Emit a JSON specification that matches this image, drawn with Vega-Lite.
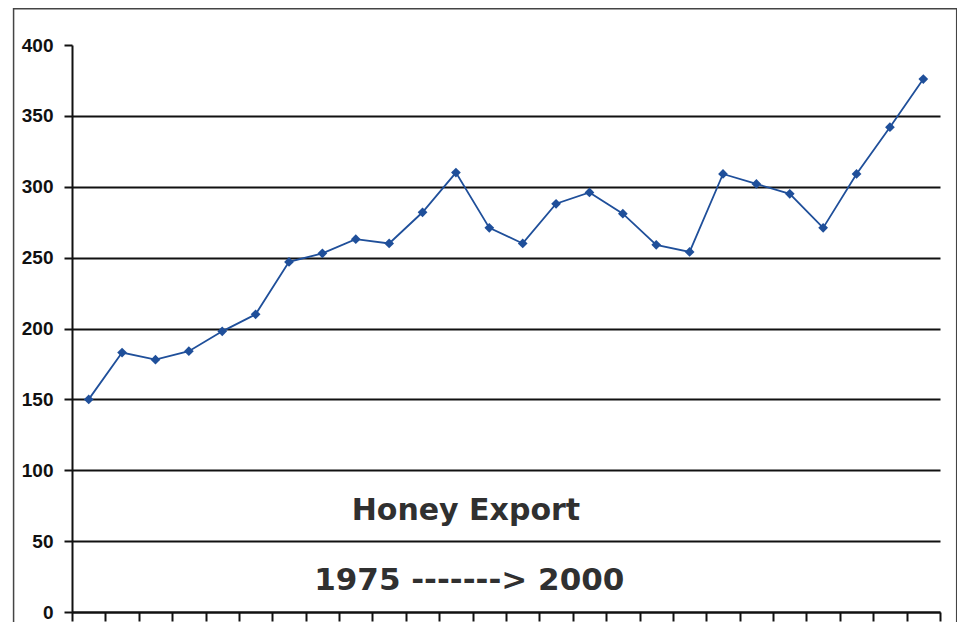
{
  "$schema": "https://vega.github.io/schema/vega-lite/v6.json",
  "width": 868,
  "height": 567,
  "autosize": {"type": "none"},
  "padding": {"left": 72, "top": 45, "right": 17, "bottom": 10},
  "background": "white",
  "config": {"view": {"stroke": null}},
  "datasets": {
    "honey": [
      {"year": 1975, "export": 150},
      {"year": 1976, "export": 183},
      {"year": 1977, "export": 178},
      {"year": 1978, "export": 184},
      {"year": 1979, "export": 198},
      {"year": 1980, "export": 210},
      {"year": 1981, "export": 247},
      {"year": 1982, "export": 253},
      {"year": 1983, "export": 263},
      {"year": 1984, "export": 260},
      {"year": 1985, "export": 282},
      {"year": 1986, "export": 310},
      {"year": 1987, "export": 271},
      {"year": 1988, "export": 260},
      {"year": 1989, "export": 288},
      {"year": 1990, "export": 296},
      {"year": 1991, "export": 281},
      {"year": 1992, "export": 259},
      {"year": 1993, "export": 254},
      {"year": 1994, "export": 309},
      {"year": 1995, "export": 302},
      {"year": 1996, "export": 295},
      {"year": 1997, "export": 271},
      {"year": 1998, "export": 309},
      {"year": 1999, "export": 342},
      {"year": 2000, "export": 376}
    ],
    "labels": [
      {"label": "Honey Export"},
      {"label": "1975 -------> 2000"}
    ]
  },
  "layer": [
    {
      "data": {"name": "honey"},
      "mark": {"type": "line", "color": "#1f4f9a", "strokeWidth": 1.8},
      "encoding": {
        "x": {
          "field": "year",
          "type": "quantitative",
          "scale": {"domain": [1974.5, 2000.5], "nice": false, "zero": false},
          "axis": {
            "title": null,
            "values": [1974.5, 1975.5, 1976.5, 1977.5, 1978.5, 1979.5, 1980.5, 1981.5, 1982.5, 1983.5, 1984.5, 1985.5, 1986.5, 1987.5, 1988.5, 1989.5, 1990.5, 1991.5, 1992.5, 1993.5, 1994.5, 1995.5, 1996.5, 1997.5, 1998.5, 1999.5, 2000.5],
            "labels": false,
            "labelOverlap": false,
            "tickCount": 27,
            "grid": false,
            "domainColor": "#111111",
            "domainWidth": 2,
            "tickColor": "#111111",
            "tickWidth": 2,
            "tickSize": 9
          }
        },
        "y": {
          "field": "export",
          "type": "quantitative",
          "scale": {"domain": [0, 400], "nice": false},
          "axis": {
            "title": null,
            "values": [0, 50, 100, 150, 200, 250, 300, 350, 400],
            "labelOverlap": false,
            "grid": true,
            "gridColor": "#111111",
            "gridWidth": 2,
            "gridOpacity": {"condition": {"test": "datum.value >= 400", "value": 0}, "value": 1},
            "domainColor": "#111111",
            "domainWidth": 2,
            "tickColor": "#111111",
            "tickWidth": 2,
            "tickSize": 8,
            "labelFont": "Liberation Sans",
            "labelFontSize": 19,
            "labelFontWeight": "bold",
            "labelColor": "#111111",
            "labelPadding": 11
          }
        }
      }
    },
    {
      "data": {"name": "honey"},
      "mark": {"type": "point", "shape": "diamond", "filled": true, "size": 95, "color": "#1f4f9a", "opacity": 1},
      "encoding": {
        "x": {"field": "year", "type": "quantitative"},
        "y": {"field": "export", "type": "quantitative"}
      }
    },
    {
      "data": {"name": "labels"},
      "transform": [{"filter": "datum.label === 'Honey Export'"}],
      "mark": {"type": "text", "font": "DejaVu Sans", "fontWeight": "bold", "fontSize": 30, "fill": "#303030", "align": "center", "baseline": "alphabetic"},
      "encoding": {
        "text": {"field": "label", "type": "nominal"},
        "x": {"datum": 1986.3, "type": "quantitative"},
        "y": {"datum": 65, "type": "quantitative"}
      }
    },
    {
      "data": {"name": "labels"},
      "transform": [{"filter": "datum.label !== 'Honey Export'"}],
      "mark": {"type": "text", "font": "DejaVu Sans", "fontWeight": "bold", "fontSize": 31, "fill": "#303030", "align": "center", "baseline": "alphabetic"},
      "encoding": {
        "text": {"field": "label", "type": "nominal"},
        "x": {"datum": 1986.4, "type": "quantitative"},
        "y": {"datum": 15.5, "type": "quantitative"}
      }
    },
    {
      "data": {"name": "labels"},
      "transform": [{"filter": "datum.label === 'Honey Export'"}],
      "mark": {"type": "rect", "fill": null, "fillOpacity": 0, "stroke": "#444444", "strokeWidth": 1.5},
      "encoding": {
        "x": {"datum": 1972.75, "type": "quantitative"},
        "x2": {"datum": 2001.0},
        "y": {"datum": 425.5, "type": "quantitative"},
        "y2": {"datum": -30}
      }
    }
  ]
}
